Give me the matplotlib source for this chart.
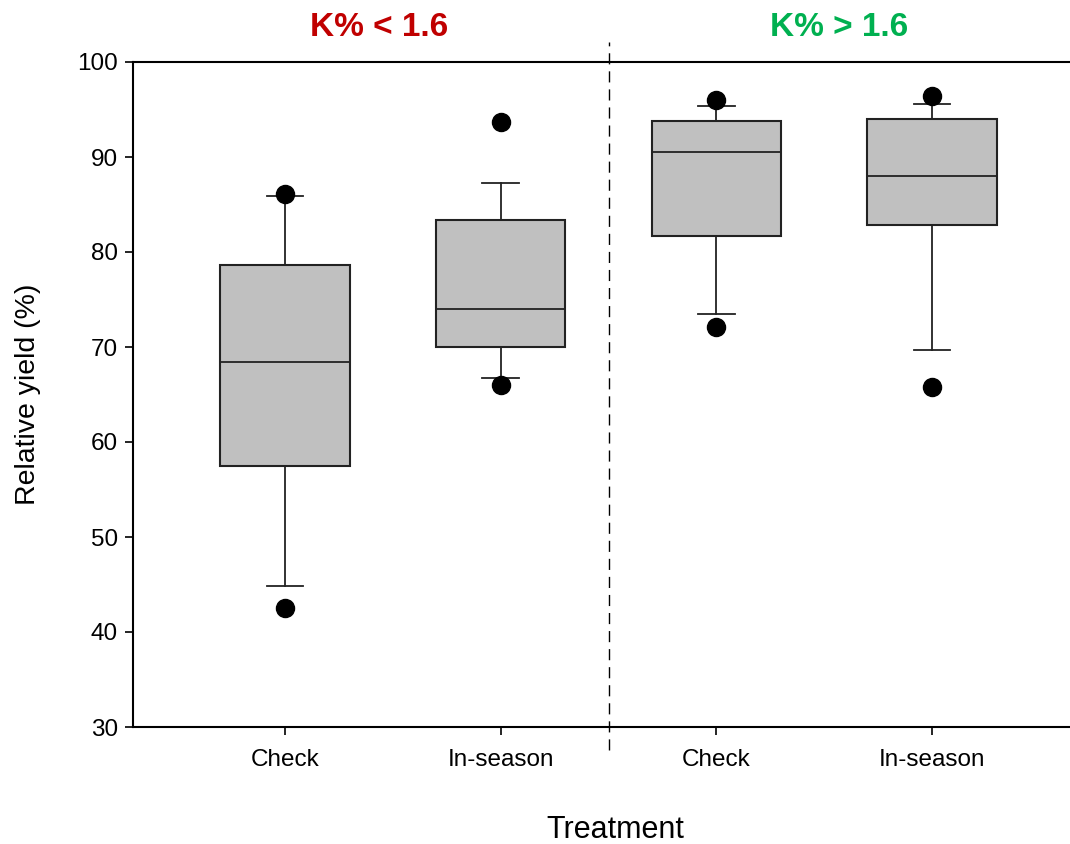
import matplotlib.pyplot as plt

plt.rcParams['font.family'] = ['Liberation Sans', 'DejaVu Sans']

labels = ["Check", "In-season", "Check", "In-season"]
q1 = [57.5, 70.0, 81.7, 82.8]
med = [68.4, 74.0, 90.5, 88.0]
q3 = [78.6, 83.4, 93.8, 94.0]
whislo = [44.8, 66.7, 73.5, 69.7]
whishi = [85.9, 87.3, 95.4, 95.6]
outliers = [[42.5, 86.1], [66.0, 93.7], [72.1, 96.0], [65.8, 96.4]]
group_titles = ["K% < 1.6", "K% > 1.6"]
group_colors = ["#C00000", "#00B050"]

stats = []
for i in range(len(labels)):
    stats.append(dict(label=labels[i], q1=q1[i], med=med[i], q3=q3[i],
                      whislo=whislo[i], whishi=whishi[i], fliers=outliers[i]))

fig = plt.figure(figsize=(10.7, 8.44), dpi=100)
ax = fig.add_axes([133 / 1070, 1 - 727 / 844, 1 - 133 / 1070, (727 - 62) / 844])

ax.bxp(stats, positions=[1, 2, 3, 4], widths=0.6, patch_artist=True,
       capwidths=0.17,
       boxprops=dict(facecolor="#C0C0C0", edgecolor="#222222", linewidth=1.5),
       medianprops=dict(color="#222222", linewidth=1.3),
       whiskerprops=dict(color="#222222", linewidth=1.3),
       capprops=dict(color="#222222", linewidth=1.3),
       flierprops=dict(marker="o", markerfacecolor="black", markeredgecolor="black",
                       markersize=13))

ax.set_xlim(0.295, 4.64)
ax.set_ylim(30, 100)
ax.set_yticks(range(30, 101, 10))
ax.spines['right'].set_visible(False)
for s in ['left', 'top', 'bottom']:
    ax.spines[s].set_linewidth(1.5)
ax.tick_params(axis='both', direction='out', length=6, width=1.2, labelsize=17.5)
ax.tick_params(axis='x', pad=10)
ax.tick_params(axis='y', pad=5)

ax.axvline(2.5, ymin=-0.035, ymax=1.03, color="black", linestyle=(0, (8, 5)),
           linewidth=1, clip_on=False)

ax.set_ylabel("Relative yield (%)", fontsize=20.5, labelpad=26)
fig.text(615 / 1070, 1 - 830 / 844, "Treatment", fontsize=22, ha="center", va="center")

for x, t, c in zip([379 / 1070, 839 / 1070], group_titles, group_colors):
    fig.text(x, 1 - 28 / 844, t, color=c, fontsize=24, fontweight="bold",
             ha="center", va="center")

fig.savefig("out.png", dpi=100)
